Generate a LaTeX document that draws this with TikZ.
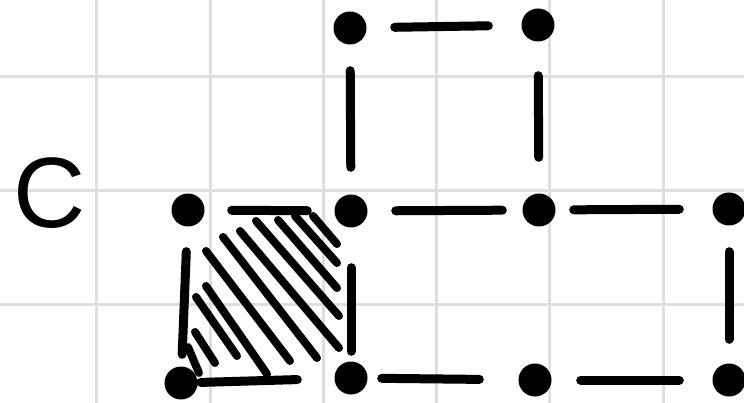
\documentclass[tikz,border=0pt]{standalone}
\usepackage{fontspec}
\newfontfamily\handfont{Liberation Sans}
\usepackage{xcolor}
\definecolor{Ink}  {HTML}{000000}
\definecolor{GridG}{HTML}{DEDEDE}
\tikzset{
  dot/.style={
    circle, fill=Ink, inner sep=0pt, minimum size=33pt,
  },
  seg/.style args={#1/#2}{
    draw=Ink, line width=9pt, line cap=round,
    shorten <=#1pt, shorten >=#2pt,
  },
  hatch/.style={
    draw=Ink, line width=8pt, line cap=round,
  },
  gridln/.style={
    draw=GridG, line width=3pt,
  },
}
\begin{document}
\begin{tikzpicture}[x=1pt,y=-1pt]
    \useasboundingbox (0,0) rectangle (744,403);
    \foreach \gx in {96,210,323,436,549,663}{
      \draw[gridln] (\gx,0) -- (\gx,403);
    }
    \foreach \gy in {77,191,304}{
      \draw[gridln] (0,\gy) -- (744,\gy);
    }
    % hatched square
    \foreach \ha/\hb/\hc/\hd in {313/216/337/244, 295/216/337/263, 278/220/337/288,
                                 256/221/339/316, 240/231/339/348, 223/237/317/358,
                                 206/251/290/361, 206/286/267/374, 196/297/237/356,
                                 195/332/215/363, 188/347/199/373}{
      \draw[hatch] (\ha,\hb) -- (\hc,\hd);
    }
    \node[font=\handfont\fontsize{100}{100}\selectfont, inner sep=0pt] (lblC) at (50,193) {C};
    \node[dot] (t1) at (350,28) {};
    \node[dot] (t2) at (538,25) {};
    \node[dot] (m0) at (188,210) {};
    \node[dot] (m1) at (351,211) {};
    \node[dot] (m2) at (539,210) {};
    \node[dot] (m3) at (729,209) {};
    \node[dot] (b0) at (181,383) {};
    \node[dot] (b1) at (351,378) {};
    \node[dot] (b2) at (535,380) {};
    \node[dot] (b3) at (729,380) {};
    \draw[seg=28/33] (t1) -- (t2);
    \draw[seg=26/27] (t1) -- (m1);
    \draw[seg=34/36] (t2) -- (m2);
    \draw[seg=27/27] (m0) -- (m1);
    \draw[seg=28/20] (m1) -- (m2);
    \draw[seg=18/33] (m2) -- (m3);
    \draw[seg=25/12] (m0) -- (b0);
    \draw[seg=40/10] (m1) -- (b1);
    \draw[seg=26/24] (m3) -- (b3);
    \draw[seg=3/37] (b0) -- (b1);
    \draw[seg=14/39] (b1) -- (b2);
    \draw[seg=29/33] (b2) -- (b3);
  \end{tikzpicture}
\end{document}
